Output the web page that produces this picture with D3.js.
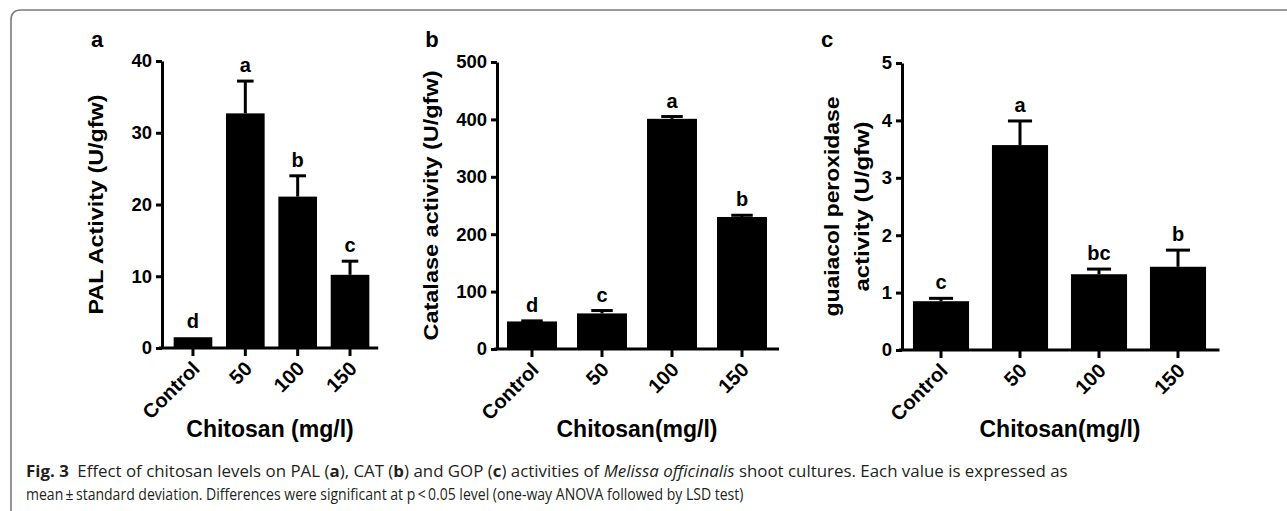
<!DOCTYPE html>
<html>
<head>
<meta charset="utf-8">
<script src="https://cdn.jsdelivr.net/npm/d3@7"></script>
<style>
  html, body { margin: 0; padding: 0; background: #fff; }
  svg { display: block; }
  .ax text { font-family: "Liberation Sans", Arial, sans-serif; font-weight: bold; fill: #000; }
</style>
</head>
<body>
<svg id="fig" width="1287" height="511"></svg>
<script>
// chitosan treatments shared by all three panels
const categories = ['Control', '50', '100', '150'];

// a: PAL activity (U/gfw)
const palMean = [1.5, 32.7, 21.1, 10.2];
const palSd = [0, 4.5, 2.9, 1.9];
const palLetters = ['d', 'a', 'b', 'c'];
const palTicks = [0, 10, 20, 30, 40];

// b: catalase activity (U/gfw)
const catMean = [48, 62, 401, 230];
const catSd = [1, 5, 4, 3];
const catLetters = ['d', 'c', 'a', 'b'];
const catTicks = [0, 100, 200, 300, 400, 500];

// c: guaiacol peroxidase activity (U/gfw)
const gopMean = [0.85, 3.57, 1.32, 1.45];
const gopSd = [0.05, 0.42, 0.09, 0.29];
const gopLetters = ['c', 'a', 'bc', 'b'];
const gopTicks = [0, 1, 2, 3, 4, 5];

const FONT = '"Liberation Sans", Arial, sans-serif';
const svg = d3.select('#fig');

// outer frame, right and bottom run off the picture
svg.append('path')
    .attr('d', 'M11,520 L11,20 Q11,10 21,10 L1295,10')
    .attr('fill', 'none')
    .attr('stroke', '#7a7a7a')
    .attr('stroke-width', 1.6);

const panels = [
    {
        tag: 'a', tagX: 97, mean: palMean, sd: palSd, letters: palLetters, ticks: palTicks,
        axisX: 162, band: [166.8, 376.2], pad: 0.262, y0: 348, y1: 61,
        ylab: ['PAL Activity (U/gfw)'], ylabX: [95], ylabLen: [220],
        xlab: 'Chitosan (mg/l)', xlabX: 270,
    },
    {
        tag: 'b', tagX: 432, mean: catMean, sd: catSd, letters: catLetters, ticks: catTicks,
        axisX: 497, band: [497, 777], pad: 0.286, y0: 349, y1: 62,
        ylab: ['Catalase activity (U/gfw)'], ylabX: [430], ylabLen: [270],
        xlab: 'Chitosan(mg/l)', xlabX: 637,
    },
    {
        tag: 'c', tagX: 827, mean: gopMean, sd: gopSd, letters: gopLetters, ticks: gopTicks,
        axisX: 902, band: [901.5, 1217.5], pad: 0.29, y0: 350, y1: 63,
        ylab: ['guaiacol peroxidase', 'activity (U/gfw)'], ylabX: [831, 861], ylabLen: [220, 170],
        xlab: 'Chitosan(mg/l)', xlabX: 1060,
    },
];

panels.forEach((p) =>
{
    const g = svg.append('g');
    const rows = categories.map((c, i) => ({ cat: c, mean: p.mean[i], sd: p.sd[i], letter: p.letters[i] }));

    const x = d3.scaleBand()
        .domain(categories)
        .range(p.band)
        .paddingInner(p.pad)
        .paddingOuter(p.pad / 2);

    const y = d3.scaleLinear()
        .domain([0, d3.max(p.ticks)])
        .range([p.y0, p.y1]);

    const bw = x.bandwidth();
    const capW = bw * 0.43;

    // bars
    g.selectAll('rect.bar')
        .data(rows)
        .join('rect')
        .attr('class', 'bar')
        .attr('x', (d) => x(d.cat))
        .attr('width', bw)
        .attr('y', (d) => y(d.mean))
        .attr('height', (d) => y(0) - y(d.mean))
        .attr('fill', '#000');

    // upper error bars only
    const err = g.selectAll('g.err')
        .data(rows.filter((d) => d.sd > 0))
        .join('g')
        .attr('class', 'err');
    err.append('line')
        .attr('x1', (d) => x(d.cat) + bw / 2)
        .attr('x2', (d) => x(d.cat) + bw / 2)
        .attr('y1', (d) => y(d.mean))
        .attr('y2', (d) => y(d.mean + d.sd))
        .attr('stroke', '#000')
        .attr('stroke-width', 3);
    err.append('line')
        .attr('x1', (d) => x(d.cat) + bw / 2 - capW / 2)
        .attr('x2', (d) => x(d.cat) + bw / 2 + capW / 2)
        .attr('y1', (d) => y(d.mean + d.sd))
        .attr('y2', (d) => y(d.mean + d.sd))
        .attr('stroke', '#000')
        .attr('stroke-width', 3);

    // significance letters
    g.selectAll('text.sig')
        .data(rows)
        .join('text')
        .attr('class', 'sig')
        .attr('x', (d) => x(d.cat) + bw / 2)
        .attr('y', (d) => y(d.mean + d.sd) - 9)
        .attr('text-anchor', 'middle')
        .style('font-family', FONT)
        .style('font-weight', 'bold')
        .style('font-size', '20px')
        .text((d) => d.letter);

    // y axis
    const yAxis = g.append('g')
        .attr('class', 'ax')
        .attr('transform', `translate(${p.axisX},0)`)
        .call(d3.axisLeft(y).tickValues(p.ticks).tickFormat(d3.format('d'))
            .tickSize(6).tickSizeOuter(0).tickPadding(4));
    yAxis.select('.domain').attr('stroke-width', 3);
    yAxis.selectAll('.tick line').attr('stroke-width', 3);
    yAxis.selectAll('.tick text').style('font-size', '18.5px');

    // x axis: baseline drawn from the y axis, ticks from the band scale
    const xAxis = g.append('g')
        .attr('class', 'ax')
        .attr('transform', `translate(0,${p.y0})`)
        .call(d3.axisBottom(x).tickSize(8).tickSizeOuter(0));
    xAxis.select('.domain').remove();
    xAxis.append('line')
        .attr('x1', p.axisX - 3)
        .attr('x2', p.band[1] + 2)
        .attr('stroke', '#000')
        .attr('stroke-width', 3);
    xAxis.selectAll('.tick line').attr('stroke-width', 3);
    xAxis.selectAll('.tick text')
        .attr('y', 0)
        .attr('dy', 0)
        .attr('transform', 'translate(8,22) rotate(-45)')
        .attr('text-anchor', 'end')
        .style('font-size', '20px');

    // panel tag
    g.append('text')
        .attr('x', p.tagX)
        .attr('y', 47)
        .attr('text-anchor', 'middle')
        .style('font-family', FONT)
        .style('font-weight', 'bold')
        .style('font-size', '22px')
        .text(p.tag);

    // y title (one or two lines), stretched to the reference length
    p.ylab.forEach((t, i) =>
    {
        g.append('text')
            .attr('transform', `translate(${p.ylabX[i]},${(p.y0 + p.y1) / 2}) rotate(-90)`)
            .attr('dy', '0.36em')
            .attr('text-anchor', 'middle')
            .attr('textLength', p.ylabLen[i])
            .attr('lengthAdjust', 'spacingAndGlyphs')
            .style('font-family', FONT)
            .style('font-weight', 'bold')
            .style('font-size', '21px')
            .text(t);
    });

    // x title
    g.append('text')
        .attr('x', p.xlabX)
        .attr('y', 437)
        .attr('text-anchor', 'middle')
        .style('font-family', FONT)
        .style('font-weight', 'bold')
        .style('font-size', '23px')
        .text(p.xlab);
});

// caption, each line squeezed horizontally to its measured width
const captionLines = [
    {
        y: 477,
        width: 1042,
        size: 16.5,
        parts: [
            ['Fig. 3', 'bold', 'normal'],
            ['\u2002Effect of chitosan levels on PAL (', 'normal', 'normal'],
            ['a', 'bold', 'normal'],
            ['), CAT (', 'normal', 'normal'],
            ['b', 'bold', 'normal'],
            [') and GOP (', 'normal', 'normal'],
            ['c', 'bold', 'normal'],
            [') activities of ', 'normal', 'normal'],
            ['Melissa officinalis', 'normal', 'italic'],
            [' shoot cultures. Each value is expressed as', 'normal', 'normal'],
        ],
    },
    {
        y: 500,
        width: 718,
        size: 17,
        parts: [
            ['mean\u2009\u00b1\u2009standard deviation. Differences were significant at p\u2009<\u20090.05 level (one-way ANOVA followed by LSD test)', 'normal', 'normal'],
        ],
    },
];

captionLines.forEach((line) =>
{
    const txt = svg.append('g')
        .attr('transform', `translate(26,${line.y})`)
        .append('text')
        .style('font-family', '"Open Sans", "Noto Sans", sans-serif')
        .style('font-size', `${line.size}px`)
        .attr('fill', '#231f20');
    line.parts.forEach((part) =>
    {
        txt.append('tspan')
            .style('font-weight', part[1])
            .style('font-style', part[2])
            .text(part[0]);
    });
    const w = txt.node().getComputedTextLength();
    txt.attr('transform', `scale(${line.width / w},1)`);
});
</script>
</body>
</html>
